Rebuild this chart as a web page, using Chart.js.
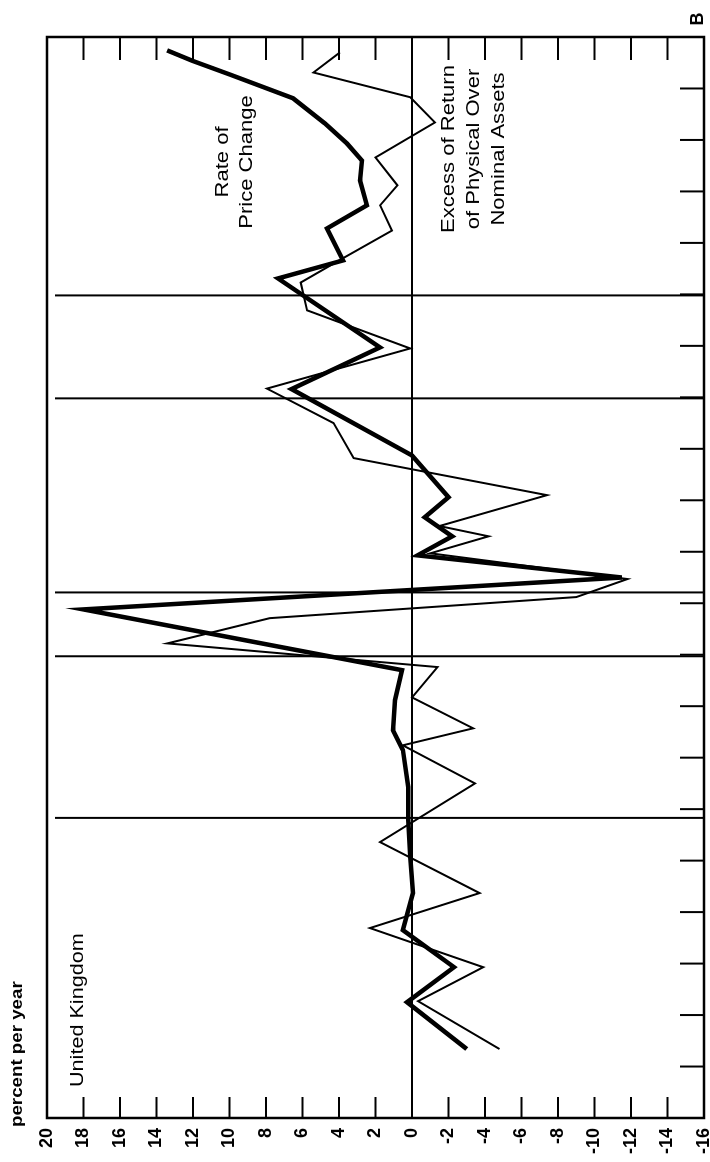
<!DOCTYPE html>
<html>
<head>
<meta charset="utf-8">
<title>United Kingdom</title>
<script src="https://cdn.jsdelivr.net/npm/chart.js@4.4.1/dist/chart.umd.min.js"></script>
<style>
  html, body { margin: 0; padding: 0; background: #fff; overflow: hidden; }
  /* the chart is drawn landscape and turned a quarter turn to the left */
  #wrap {
    position: absolute; left: 0; top: 0;
    width: 1162px; height: 710px;
    transform-origin: 0 0;
    transform: translate(0, 1162px) rotate(-90deg);
  }
</style>
</head>
<body>
<div id="wrap"><canvas id="uk-chart" width="1162" height="710"></canvas></div>
<script>
// time runs in tick units along the frame (0 = left edge, 21 = right edge)
const priceTimes = [1.34, 2.25, 2.93, 3.65, 4.37, 5.07, 5.79, 6.43, 7.15, 7.53, 8.12, 8.70,
  9.88, 10.50, 10.93, 11.30, 11.67, 12.06, 12.87, 14.16, 14.97, 16.31, 16.66, 17.28,
  17.73, 18.21, 18.60, 18.93, 19.32, 19.81, 20.27, 20.54, 20.74];
const priceChange = [-3.0, 0.27, -2.3, 0.5, -0.05, 0.1, 0.2, 0.2, 0.5, 1.04, 0.93, 0.55,
  18.0, -11.5, -0.3, -2.2, -0.7, -2.0, 0.0, 6.6, 1.75, 7.34, 3.78, 4.66,
  2.47, 2.85, 2.74, 3.56, 4.77, 6.52, 9.97, 12.05, 13.42];

const excessTimes = [1.34, 2.27, 2.93, 3.69, 4.37, 5.36, 6.50, 7.24, 7.57, 8.17, 8.76,
  9.22, 9.71, 10.12, 10.47, 10.97, 11.30, 11.50, 12.10, 12.82, 13.50, 14.17, 14.95,
  15.69, 16.23, 16.70, 17.24, 17.73, 18.12, 18.66, 19.34, 19.83, 20.31, 20.70];
const excessReturn = [-4.8, -0.33, -3.9, 2.3, -3.7, 1.75, -3.45, 0.5, -3.35, 0.0, -1.4,
  13.4, 7.8, -9.0, -11.8, -1.0, -4.2, -1.5, -7.4, 3.2, 4.3, 7.95, 0.1,
  5.75, 6.1, 3.8, 1.1, 1.75, 0.8, 2.0, -1.26, 0.1, 5.4, 3.95];

const valueTicks = [20, 18, 16, 14, 12, 10, 8, 6, 4, 2, 0, -2, -4, -6, -8, -10, -12, -14, -16];
const timeTicks = [1, 2, 3, 4, 5, 6, 7, 8, 9, 10, 11, 12, 13, 14, 15, 16, 17, 18, 19, 20];
const eventTimes = [5.83, 8.97, 10.21, 13.98, 15.98];

const FONT = '"Liberation Sans", Arial, Helvetica, sans-serif';

function wideText(ctx, text, x, y, align, sx) {
  ctx.save();
  ctx.translate(x, y);
  ctx.scale(sx, 1);
  ctx.textAlign = align;
  ctx.fillText(text, 0, 0);
  ctx.restore();
}

const framePlugin = {
  id: 'frame',
  beforeDatasetsDraw(chart) {
    const { ctx, chartArea: a, scales: { x } } = chart;
    ctx.save();
    ctx.strokeStyle = '#000';
    ctx.lineWidth = 2;
    eventTimes.forEach(t => {
      const px = x.getPixelForValue(t);
      ctx.beginPath();
      ctx.moveTo(px, a.top + 8);
      ctx.lineTo(px, a.bottom);
      ctx.stroke();
    });
    ctx.restore();
  },
  afterDatasetsDraw(chart) {
    const { ctx, chartArea: a, scales: { x, y } } = chart;
    ctx.save();
    ctx.strokeStyle = '#000';
    ctx.lineWidth = 2.5;
    ctx.strokeRect(a.left, a.top, a.right - a.left, a.bottom - a.top);
    ctx.lineWidth = 2;
    ctx.beginPath();
    valueTicks.slice(1, -1).forEach(v => {
      const py = y.getPixelForValue(v);
      ctx.moveTo(a.left, py); ctx.lineTo(a.left + 21, py);
      ctx.moveTo(a.right, py); ctx.lineTo(a.right - 23, py);
    });
    timeTicks.forEach(t => {
      const px = x.getPixelForValue(t);
      ctx.moveTo(px, a.bottom); ctx.lineTo(px, a.bottom - 24);
    });
    ctx.stroke();
    ctx.restore();
  },
  afterDraw(chart) {
    const ctx = chart.ctx;
    ctx.save();
    ctx.fillStyle = '#000';
    ctx.textBaseline = 'alphabetic';
    ctx.font = 'bold 16px ' + FONT;
    wideText(ctx, 'percent per year', 35, 22, 'left', 1.17);
    ctx.font = '18px ' + FONT;
    wideText(ctx, 'United Kingdom', 75, 83, 'left', 1.2);
    ctx.font = '19px ' + FONT;
    wideText(ctx, 'Rate of', 1000, 228, 'center', 1.16);
    wideText(ctx, 'Price Change', 1000, 252, 'center', 1.16);
    wideText(ctx, 'Excess of Return', 1013, 454, 'center', 1.16);
    wideText(ctx, 'of Physical Over', 1013, 479, 'center', 1.16);
    wideText(ctx, 'Nominal Assets', 1013, 504, 'center', 1.16);
    ctx.font = 'bold 18px ' + FONT;
    wideText(ctx, 'B', 1143, 703, 'center', 1);
    ctx.restore();
  }
};

new Chart(document.getElementById('uk-chart'), {
  type: 'line',
  data: {
    datasets: [{
      label: 'Rate of Price Change',
      data: priceTimes.map((t, i) => ({ x: t, y: priceChange[i] })),
      borderColor: '#000',
      borderWidth: 4.5,
      borderJoinStyle: 'miter',
      pointRadius: 0,
      tension: 0
    }, {
      label: 'Excess of Return of Physical Over Nominal Assets',
      data: excessTimes.map((t, i) => ({ x: t, y: excessReturn[i] })),
      borderColor: '#000',
      borderWidth: 2,
      borderJoinStyle: 'miter',
      pointRadius: 0,
      tension: 0
    }]
  },
  options: {
    responsive: false,
    animation: false,
    layout: { padding: { left: 0, top: 47, right: 37, bottom: 6 } },
    scales: {
      x: {
        type: 'linear',
        min: 0,
        max: 21,
        display: false
      },
      y: {
        min: -16,
        max: 20,
        afterBuildTicks: s => { s.ticks = valueTicks.map(v => ({ value: v })); },
        afterFit: s => { s.width = 44; s.paddingTop = 0; s.paddingBottom = 0; },
        border: { display: false },
        grid: {
          drawTicks: false,
          color: c => (c.tick && c.tick.value === 0 ? '#000' : 'rgba(0,0,0,0)'),
          lineWidth: 2
        },
        ticks: {
          color: '#000',
          padding: 10,
          font: { family: FONT, size: 18, weight: 'bold' }
        }
      }
    },
    plugins: {
      legend: { display: false },
      tooltip: { enabled: false }
    }
  },
  plugins: [framePlugin]
});
</script>
</body>
</html>
